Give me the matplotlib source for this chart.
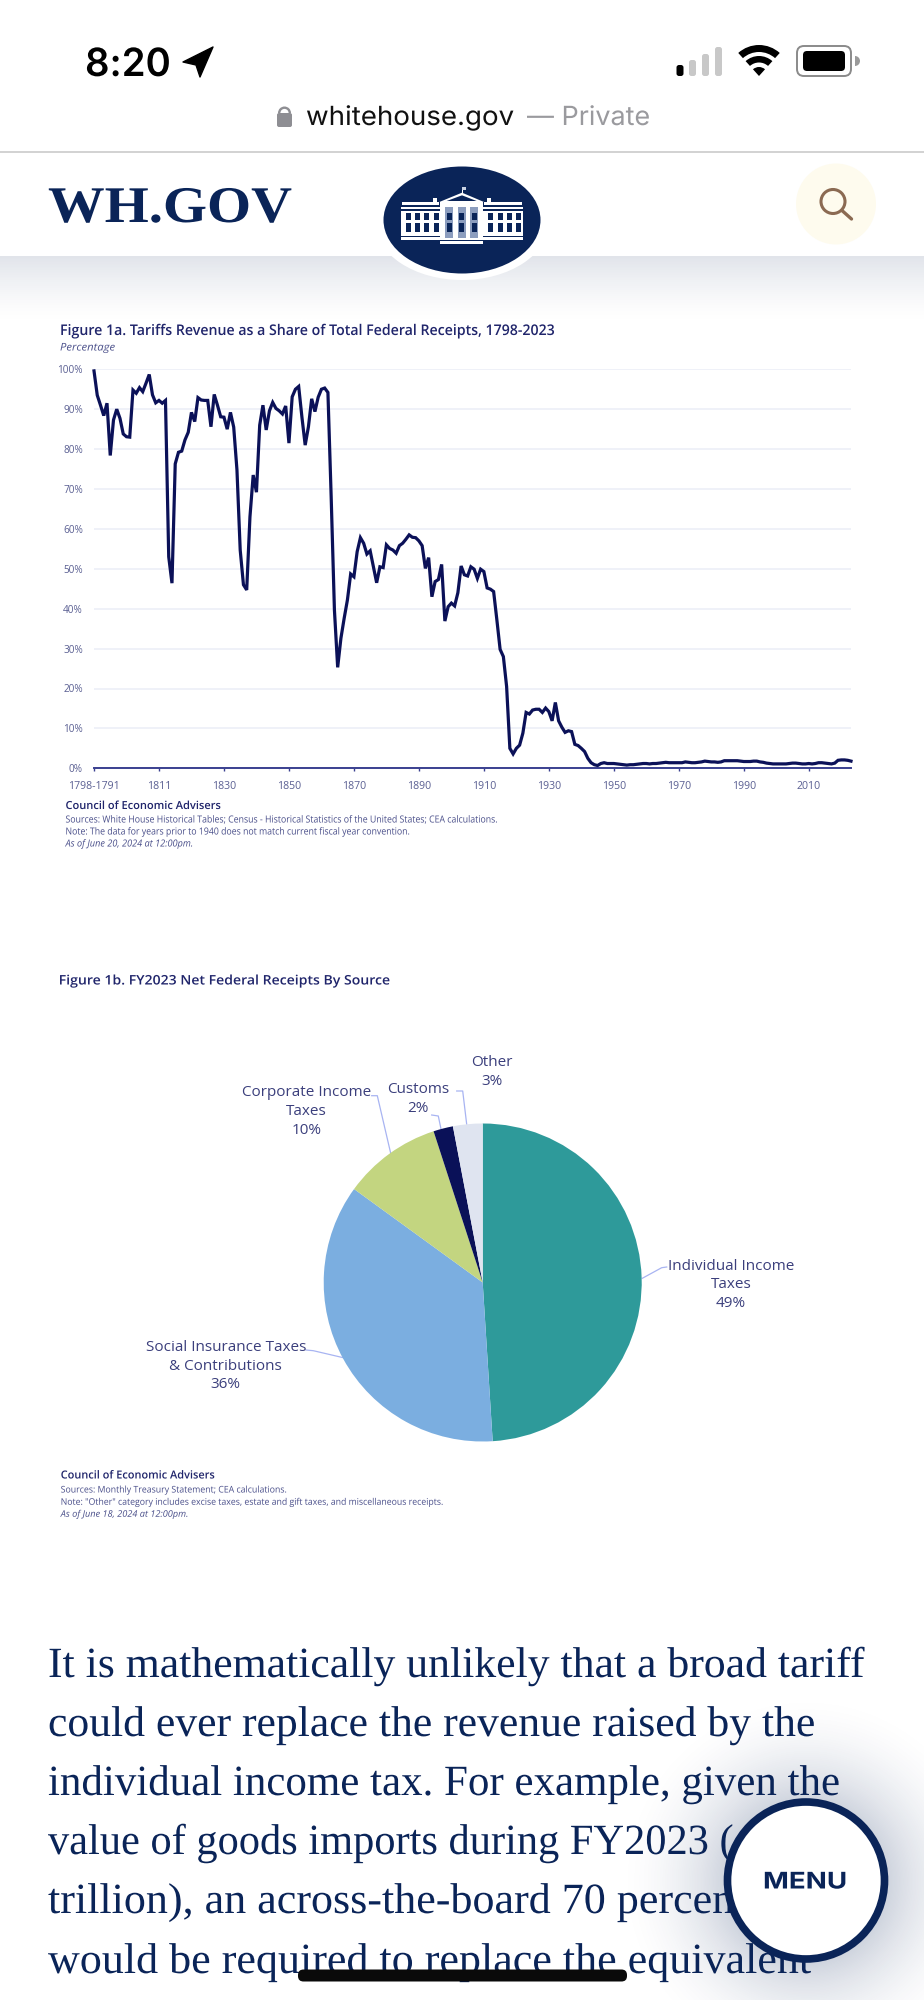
import numpy as np
import matplotlib
matplotlib.use("Agg")
import matplotlib.pyplot as plt
import matplotlib.patheffects as pe
from matplotlib.patches import Circle, Ellipse, FancyBboxPatch, Polygon, Rectangle, Wedge
from matplotlib.transforms import Affine2D

# figure 1a : share of tariffs in receipts, one value per category of the axis
tariff_share = [
    99.6, 93.5, 91, 88.4, 91.5, 78.4, 87.3, 90, 87.7, 83.8,
    83.1, 83, 94.8, 94, 95.4, 94.4, 96.5, 98.7, 93.6, 91.6,
    92.2, 91.5, 92.2, 53, 46.4, 76.3, 79.2, 79.5, 82.3, 84.2,
    89.2, 86.9, 92.9, 92.3, 92.2, 92.2, 85.6, 93.7, 91, 88.1,
    88, 85, 89.2, 85.5, 74.8, 54.7, 46, 44.7, 63, 73.5,
    69.2, 86, 91, 84.8, 89.6, 91.7, 90.2, 89.6, 88.8, 90.8,
    81.5, 93.1, 95, 95.7, 88, 81, 85.6, 92.6, 89.4, 93,
    95, 95.3, 94.2, 68, 39.7, 25.3, 32.6, 37.6, 42.2, 48.7,
    48, 54.3, 57.8, 56.4, 53.7, 54.5, 50.5, 46.5, 50.5, 50.3,
    56, 55.1, 54.7, 53.9, 55.8, 56.4, 57.4, 58.5, 57.9, 57.8,
    57, 55.8, 50.1, 52.8, 43, 46.8, 47.3, 51.1, 36.9, 40.5,
    41.4, 40.7, 44, 50.7, 48.5, 48.2, 50.5, 49.9, 47.6, 49.9,
    49.3, 45.2, 44.9, 44.3, 37.2, 29.8, 28, 20.5, 5, 3.6,
    5, 5.8, 8.8, 14, 13.6, 14.6, 14.8, 14.8, 14, 15.1,
    14.2, 11.9, 16.5, 11.9, 10.3, 9, 9.4, 9.2, 6, 5.7,
    5, 4.2, 2.5, 1.4, 0.9, 0.7, 1.2, 1.4, 1.2, 1.2,
    1.2, 1.1, 1, 0.9, 0.8, 0.9, 0.9, 1, 1.1, 1.2,
    1.2, 1.1, 1.2, 1.2, 1.3, 1.4, 1.5, 1.4, 1.4, 1.4,
    1.4, 1.4, 1.6, 1.5, 1.4, 1.4, 1.5, 1.6, 1.8, 1.7,
    1.6, 1.6, 1.5, 1.6, 1.9, 1.9, 1.9, 1.9, 1.9, 1.8,
    1.7, 1.7, 1.7, 1.8, 1.8, 1.6, 1.5, 1.3, 1.2, 1.1,
    1.1, 1.1, 1.1, 1.1, 1.2, 1.3, 1.3, 1.2, 1.1, 1.1,
    1.2, 1.1, 1.2, 1.4, 1.4, 1.3, 1.2, 1.1, 1.3, 2,
    2.1, 2.1, 2, 1.8,
]
year_ticks = list(range(0, 221, 20))
year_labels = ["1798-1791", "1811", "1830", "1850", "1870", "1890", "1910",
               "1930", "1950", "1970", "1990", "2010"]
pct_ticks = list(range(0, 101, 10))

# figure 1b : receipts by source
source_values = [49, 36, 10, 2, 3]
source_colors = ["#2E9A9A", "#7BAEE0", "#C3D580", "#0A1158", "#DFE4F0"]
source_labels = ["Individual Income\nTaxes\n49%", "Social Insurance Taxes\n& Contributions\n36%",
                 "Corporate Income\nTaxes\n10%", "Customs\n2%", "Other\n3%"]

body_lines = [
    "It is mathematically unlikely that a broad tariff",
    "could ever replace the revenue raised by the",
    "individual income tax. For example, given the",
    "value of goods imports during FY2023 (",
    "trillion), an across-the-board 70 percent",
    "would be required to replace the equivalent",
]

NAVY = "#0A2458"
LINE = "#0B1158"
INK = "#20256B"
SOFT = "#4A4F8A"
LABEL = "#3B3F7C"
TICK = "#5A5F92"
LEADER = "#A8B4F2"
CHART_FONT = "Open Sans"


# squeeze a text horizontally around its anchor, the screenshot is not 1:1
class Squeeze(pe.AbstractPathEffect):
    def __init__(self, sx, x0):
        super().__init__()
        self.sx = sx
        self.x0 = x0

    def draw_path(self, renderer, gc, tpath, affine, rgbFace=None):
        t = Affine2D().translate(-self.x0, 0).scale(self.sx, 1).translate(self.x0, 0)
        renderer.draw_path(gc, tpath, affine + t, rgbFace)


fig = plt.figure(figsize=(9.24, 20), dpi=100, facecolor="white")
renderer = fig.canvas.get_renderer()

# page axes in pixels of the screenshot
page = fig.add_axes([0, 0, 1, 1], zorder=0)
page.set_xlim(0, 924)
page.set_ylim(2000, 0)
page.set_autoscale_on(False)
page.axis("off")


def txt(x, y, s, size, color=INK, w=None, ha="left", va="center", family=CHART_FONT, **kw):
    t = page.text(x, y, s, fontsize=size, color=color, ha=ha, va=va, family=family, **kw)
    if w:
        t.set_path_effects([Squeeze(w / t.get_window_extent(renderer).width, x)])
    return t


def box(x0, y0, x1, y1, c, z=3):
    page.add_patch(Rectangle((x0, y0), x1 - x0, y1 - y0, fc=c, ec="none", zorder=z))


# status bar
txt(85, 76, "8:20", 28, "black", w=86, va="baseline", family="Inter", fontweight="semibold")
page.add_patch(Polygon([(213, 47), (183, 62), (196, 65), (200, 77)], fc="black", ec="black", lw=1, joinstyle="round"))
for bx, top, col in [(676.5, 65, "black"), (689, 60, "#C8C8C8"), (702, 54, "#C8C8C8"), (715, 47, "#C8C8C8")]:
    page.add_patch(FancyBboxPatch((bx + 1, top + 1), 5, 76 - top - 2, boxstyle="round,pad=1,rounding_size=2.5", fc=col, ec="none"))
page.add_patch(Wedge((759, 76), 31, 228, 312, width=7, fc="black"))
page.add_patch(Wedge((759, 76), 20, 228, 312, width=6.5, fc="black"))
page.add_patch(Wedge((759, 76), 9, 228, 312, fc="black"))
page.add_patch(FancyBboxPatch((800, 49), 48, 24, boxstyle="round,pad=3,rounding_size=7", fc="white", ec="#8A8A8A", lw=1.4))
page.add_patch(FancyBboxPatch((805, 53), 38, 16, boxstyle="round,pad=2,rounding_size=4", fc="black", ec="none"))
page.add_patch(Wedge((855, 61), 5, 270, 90, fc="#9A9A9A"))

# address bar
page.add_patch(Wedge((284.5, 113), 6.5, 180, 360, width=2.4, fc="#8E8E93"))
page.add_patch(FancyBboxPatch((278, 114), 13, 12, boxstyle="round,pad=1,rounding_size=2", fc="#8E8E93", ec="none"))
txt(306, 125, "whitehouse.gov", 19, "#111111", w=208, va="baseline", family="Inter")
txt(527, 125, "\u2014 Private", 19, "#9A9A9E", w=123, va="baseline", family="Inter")
page.plot([0, 924], [152, 152], color="#CFCFCF", lw=1.3)

# site header and its shadow
t_shadow = np.linspace(0, 1, 70)[:, None]
shadow = np.zeros((70, 1, 4))
shadow[..., :3] = (10 / 255, 36 / 255, 88 / 255)
shadow[..., 3] = 0.125 * (1 - t_shadow) ** 1.5
page.imshow(shadow, extent=(0, 924, 326, 256), aspect="auto", zorder=1)

txt(48, 222, "WH.GOV", 37, NAVY, w=244, va="baseline", family="Liberation Serif", fontweight="bold")
page.add_patch(Ellipse((836, 204), 80, 81, fc="#FEFBEE", ec="none"))
page.add_patch(Circle((833, 201.5), 12, fc="none", ec="#8B6A52", lw=2.2))
page.plot([842, 851.5], [210.5, 219], color="#8B6A52", lw=2.4, solid_capstyle="round")

# logo
page.add_patch(Ellipse((462, 222), 174, 116, fc="white", ec="none", zorder=2))
page.add_patch(Ellipse((462, 220), 157, 107, fc=NAVY, ec="none", zorder=2))


def lx(p):
    return 380 + p / 3


def ly(p):
    return 160 + p / 3


for side in (0, 1):
    x0, x1 = (62, 180) if side == 0 else (310, 430)
    box(lx(x0), ly(140), lx(x1), ly(240), "white")
    box(lx(x0), ly(148), lx(x1), ly(152), NAVY)
    box(lx(x0 + 3), ly(125), lx(x1 - 3), ly(136), "white")
    box(lx(x0), ly(228), lx(x1), ly(231), NAVY)
    for k in range(4):
        wx = x0 + 15 + 28 * k
        box(lx(wx), ly(158), lx(wx + 15), ly(180), NAVY)
        box(lx(wx), ly(190), lx(wx + 15), ly(216), NAVY)
    cx = 166 if side == 0 else 326
    box(lx(cx - 6), ly(113), lx(cx + 6), ly(125), "white")
box(lx(180), ly(125), lx(310), ly(252), "white")
box(lx(195), ly(140), lx(295), ly(235), "#8C9DBE")
for wx in (200, 238, 276):
    box(lx(wx), ly(158), lx(wx + 15), ly(180), NAVY)
    box(lx(wx), ly(190), lx(wx + 15), ly(216), NAVY)
for wx in (220, 258):
    box(lx(wx), ly(140), lx(wx + 13), ly(235), "white")
box(lx(180), ly(240), lx(310), ly(244), NAVY)
page.add_patch(Polygon([(lx(178), ly(126)), (lx(246), ly(98)), (lx(312), ly(126))], fc="white", ec="none", zorder=3))
page.add_patch(Polygon([(lx(200), ly(123)), (lx(246), ly(106)), (lx(290), ly(123))], fc=NAVY, ec="none", zorder=3))
box(lx(245), ly(80), lx(248), ly(98), "white")
box(lx(245), ly(80), lx(258), ly(90), "#C9D2E3")

# figure 1a, texts around the chart
txt(60, 331, "Figure 1a. Tariffs Revenue as a Share of Total Federal Receipts, 1798-2023", 10.6, INK, w=498, fontweight="semibold")
txt(60, 348, "Percentage", 7.6, SOFT, w=55, style="italic")
txt(65.5, 806.5, "Council of Economic Advisers", 8, INK, w=155, fontweight="semibold")
txt(65.5, 820, "Sources: White House Historical Tables; Census - Historical Statistics of the United States; CEA calculations.", 7, SOFT, w=436)
txt(65.5, 832, "Note: The data for years prior to 1940 does not match current fiscal year convention.", 7, SOFT, w=347)
txt(65.5, 844, "As of June 20, 2024 at 12:00pm.", 7, SOFT, w=128, style="italic")

ax = fig.add_axes([94 / 924, 1 - 768.3 / 2000, 757 / 924, 399 / 2000], zorder=1)
ax.patch.set_alpha(0)
ax.plot(np.arange(len(tariff_share)), tariff_share, color=LINE, lw=2.3, clip_on=False, solid_joinstyle="miter", zorder=3)
ax.set_xlim(0, 233)
ax.set_ylim(0, 100)
ax.set_yticks(pct_ticks)
ax.set_yticklabels([f"{p}%" for p in pct_ticks], fontsize=7.2, color=TICK, family=CHART_FONT)
ax.set_xticks(year_ticks)
ax.set_xticklabels(year_labels, fontsize=7.6, color=TICK, family=CHART_FONT)
ax.tick_params(axis="y", length=0, pad=8)
ax.tick_params(axis="x", length=2.5, width=1, color="#3A4090", pad=6.5)
ax.yaxis.grid(True, color="#EFF1F8", lw=1.4)
ax.set_axisbelow(True)
for s in ("top", "left", "right"):
    ax.spines[s].set_visible(False)
ax.spines["bottom"].set_color("#3A4090")
ax.spines["bottom"].set_linewidth(1.4)

# figure 1b
txt(58.7, 981, "Figure 1b. FY2023 Net Federal Receipts By Source", 9.5, INK, w=334, fontweight="semibold")
R = 159
pie_ax = fig.add_axes([(482.7 - R) / 924, 1 - (1282.5 + R) / 2000, 2 * R / 924, 2 * R / 2000], zorder=1)
pie_ax.pie(source_values, colors=source_colors, startangle=90, counterclock=False, radius=1,
           wedgeprops={"linewidth": 0})
pie_ax.set_xlim(-1, 1)
pie_ax.set_ylim(-1, 1)

label_pos = [(731, 1285), (225.7, 1366), (306.7, 1111.7), (418.3, 1099), (492.3, 1072)]
for (px, py), lab in zip(label_pos, source_labels):
    txt(px, py, lab, 11, LABEL, ha="center", linespacing=1.36)

leaders = [
    [(642.3, 1278.3), (661.7, 1267.7), (666.7, 1267)],
    [(306, 1350), (313.3, 1350.7), (343.3, 1357.7)],
    [(371.7, 1095.7), (377.3, 1095.7), (390.7, 1153.3)],
    [(431.7, 1115), (438.3, 1116), (441, 1129)],
    [(456.7, 1091), (462.7, 1091), (466.7, 1124.3)],
]
for pts in leaders:
    page.plot([p[0] for p in pts], [p[1] for p in pts], color=LEADER, lw=0.9, zorder=2)

txt(60.7, 1476, "Council of Economic Advisers", 8, INK, w=153.7, fontweight="semibold")
txt(60.7, 1490, "Sources: Monthly Treasury Statement; CEA calculations.", 6.6, SOFT, w=225)
txt(60.7, 1502.3, "Note: \"Other\" category includes excise taxes, estate and gift taxes, and miscellaneous receipts.", 6.6, SOFT, w=380)
txt(60.7, 1514.3, "As of June 18, 2024 at 12:00pm.", 6.6, SOFT, w=126.7, style="italic")

# article text
body_base = [1677, 1736, 1795, 1854, 1913, 1973]
body_width = [815, 766, 791, 685, 697, 762]
for yb, wb, line in zip(body_base, body_width, body_lines):
    txt(48, yb, line, 31, NAVY, w=wb, va="baseline", family="Liberation Serif", zorder=2)

# menu button with soft shadow
yy, xx = np.mgrid[1640:2000, 560:924]
d = np.hypot(xx - 806, yy - 1881)
halo = np.zeros(d.shape + (4,))
halo[..., :3] = (10 / 255, 36 / 255, 88 / 255)
halo[..., 3] = 0.2 * np.clip(1 - (d - 80) / 115, 0, 1) ** 2
page.imshow(halo, extent=(560, 924, 2000, 1640), aspect="auto", zorder=3)
page.add_patch(Circle((806, 1880.5), 78.5, fc="white", ec=NAVY, lw=5.5, zorder=5))
txt(805, 1888.5, "MENU", 16.5, NAVY, w=84, ha="center", va="baseline", family="Inter", fontweight="bold", zorder=6)

# home indicator
page.add_patch(FancyBboxPatch((303.5, 1975), 318, 1, boxstyle="round,pad=5.5,rounding_size=5.5", fc="#0A0A0A", ec="none", zorder=7))

fig.savefig("out.png", dpi=100)
